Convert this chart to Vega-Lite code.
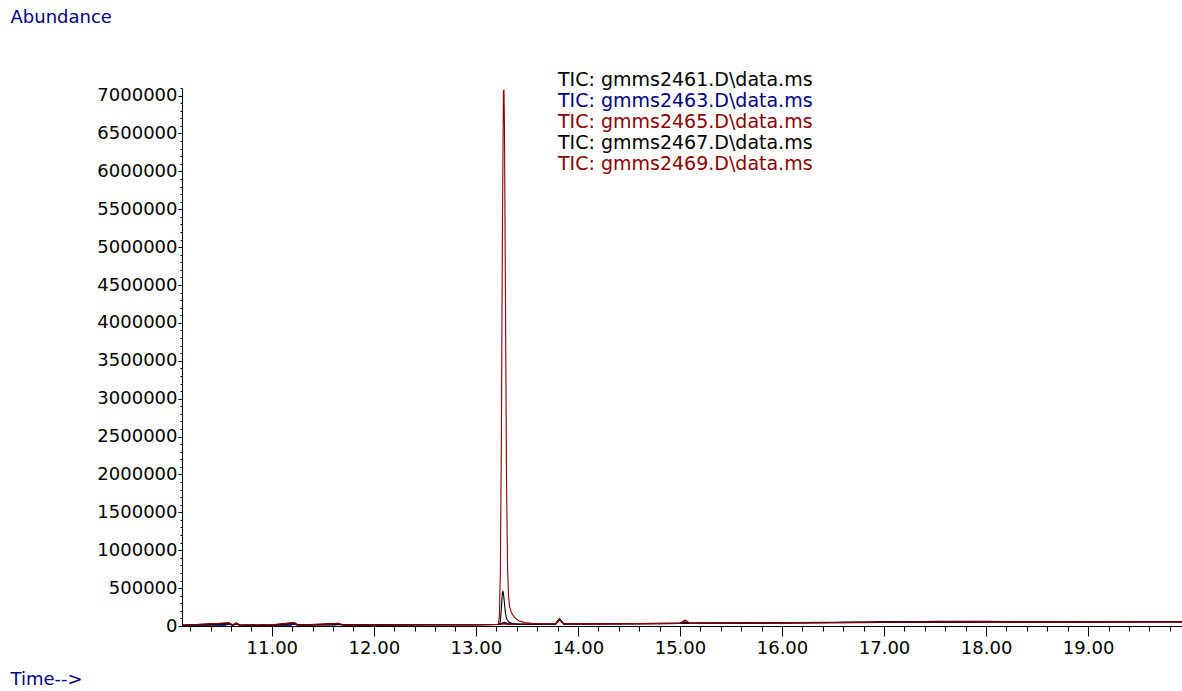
{
  "$schema": "https://vega.github.io/schema/vega-lite/v6.json",
  "width": 1000,
  "height": 538,
  "autosize": {"type": "none"},
  "padding": {"left": 182, "top": 88, "right": 0, "bottom": 65},
  "background": "white",
  "config": {"view": {"stroke": null}, "font": "DejaVu Sans"},
  "data": {"values": [
    {"s":"2461","t":10.12,"a":9000},{"s":"2461","t":10.55,"a":9500},{"s":"2461","t":10.58,"a":38000},{"s":"2461","t":10.61,"a":11000},{"s":"2461","t":10.65,"a":36000},{"s":"2461","t":10.69,"a":10000},{"s":"2461","t":10.8,"a":10000},{"s":"2461","t":10.82,"a":18000},{"s":"2461","t":10.85,"a":10000},{"s":"2461","t":10.93,"a":17000},{"s":"2461","t":10.96,"a":10500},{"s":"2461","t":11.19,"a":11000},{"s":"2461","t":11.22,"a":42000},{"s":"2461","t":11.25,"a":11500},{"s":"2461","t":11.42,"a":18000},{"s":"2461","t":11.62,"a":12500},{"s":"2461","t":11.65,"a":32000},{"s":"2461","t":11.69,"a":12500},{"s":"2461","t":12.0,"a":14000},{"s":"2461","t":12.5,"a":16000},{"s":"2461","t":13.0,"a":18000},{"s":"2461","t":13.22,"a":19000},{"s":"2461","t":13.27,"a":30000},{"s":"2461","t":13.32,"a":22000},{"s":"2461","t":13.6,"a":23000},{"s":"2461","t":13.78,"a":24000},{"s":"2461","t":13.82,"a":90000},{"s":"2461","t":13.86,"a":26000},{"s":"2461","t":14.2,"a":28000},{"s":"2461","t":14.6,"a":31000},{"s":"2461","t":15.0,"a":33000},{"s":"2461","t":15.05,"a":42000},{"s":"2461","t":15.1,"a":34000},{"s":"2461","t":15.5,"a":37000},{"s":"2461","t":16.0,"a":41000},{"s":"2461","t":16.5,"a":45000},{"s":"2461","t":17.0,"a":48000},{"s":"2461","t":17.5,"a":50000},{"s":"2461","t":18.0,"a":52000},{"s":"2461","t":18.5,"a":53000},{"s":"2461","t":19.0,"a":54000},{"s":"2461","t":19.5,"a":55000},{"s":"2461","t":19.92,"a":55000},

    {"s":"2463","t":10.12,"a":9000},{"s":"2463","t":10.58,"a":22000},{"s":"2463","t":10.62,"a":10000},{"s":"2463","t":10.65,"a":22000},{"s":"2463","t":10.69,"a":10000},{"s":"2463","t":11.0,"a":11000},{"s":"2463","t":11.22,"a":24000},{"s":"2463","t":11.26,"a":11500},{"s":"2463","t":11.65,"a":22000},{"s":"2463","t":11.7,"a":12500},{"s":"2463","t":12.0,"a":14000},{"s":"2463","t":12.5,"a":16000},{"s":"2463","t":13.0,"a":18000},{"s":"2463","t":13.22,"a":20000},{"s":"2463","t":13.28,"a":48000},{"s":"2463","t":13.34,"a":24000},{"s":"2463","t":13.6,"a":24000},{"s":"2463","t":13.78,"a":25000},{"s":"2463","t":13.82,"a":85000},{"s":"2463","t":13.86,"a":27000},{"s":"2463","t":14.2,"a":30000},{"s":"2463","t":14.6,"a":33000},{"s":"2463","t":15.0,"a":35000},{"s":"2463","t":15.3,"a":38000},{"s":"2463","t":15.6,"a":40000},{"s":"2463","t":16.0,"a":44000},{"s":"2463","t":16.5,"a":48000},{"s":"2463","t":16.9,"a":54000},{"s":"2463","t":17.0,"a":60000},{"s":"2463","t":17.4,"a":58000},{"s":"2463","t":17.5,"a":62000},{"s":"2463","t":18.0,"a":62000},{"s":"2463","t":18.2,"a":60000},{"s":"2463","t":18.5,"a":60000},{"s":"2463","t":19.0,"a":58000},{"s":"2463","t":19.5,"a":57000},{"s":"2463","t":19.92,"a":56000},

    {"s":"2465","t":10.12,"a":9000},{"s":"2465","t":10.58,"a":40000},{"s":"2465","t":10.62,"a":10000},{"s":"2465","t":10.65,"a":38000},{"s":"2465","t":10.69,"a":10000},{"s":"2465","t":11.0,"a":11000},{"s":"2465","t":11.22,"a":44000},{"s":"2465","t":11.26,"a":11500},{"s":"2465","t":11.65,"a":34000},{"s":"2465","t":11.7,"a":12500},{"s":"2465","t":12.0,"a":14000},{"s":"2465","t":12.5,"a":16000},{"s":"2465","t":13.0,"a":18000},{"s":"2465","t":13.22,"a":19000},{"s":"2465","t":13.28,"a":35000},{"s":"2465","t":13.34,"a":22000},{"s":"2465","t":13.78,"a":24000},{"s":"2465","t":13.82,"a":88000},{"s":"2465","t":13.86,"a":26000},{"s":"2465","t":14.2,"a":28000},{"s":"2465","t":14.6,"a":31000},{"s":"2465","t":15.0,"a":33000},{"s":"2465","t":15.05,"a":70000},{"s":"2465","t":15.1,"a":34000},{"s":"2465","t":15.5,"a":37000},{"s":"2465","t":16.0,"a":41000},{"s":"2465","t":16.5,"a":45000},{"s":"2465","t":17.0,"a":48000},{"s":"2465","t":17.5,"a":51000},{"s":"2465","t":18.0,"a":53000},{"s":"2465","t":18.5,"a":54000},{"s":"2465","t":19.0,"a":55000},{"s":"2465","t":19.5,"a":56000},{"s":"2465","t":19.92,"a":56000},

    {"s":"2467","t":10.12,"a":9000},{"s":"2467","t":10.58,"a":36000},{"s":"2467","t":10.62,"a":10000},{"s":"2467","t":10.65,"a":34000},{"s":"2467","t":10.69,"a":10000},{"s":"2467","t":11.0,"a":11000},{"s":"2467","t":11.22,"a":40000},{"s":"2467","t":11.26,"a":11500},{"s":"2467","t":11.65,"a":30000},{"s":"2467","t":11.7,"a":12500},{"s":"2467","t":12.0,"a":14000},{"s":"2467","t":12.5,"a":16000},{"s":"2467","t":13.0,"a":18000},{"s":"2467","t":13.2,"a":19000},{"s":"2467","t":13.23,"a":22000},{"s":"2467","t":13.24,"a":60000},{"s":"2467","t":13.25,"a":250000},{"s":"2467","t":13.26,"a":440000},{"s":"2467","t":13.265,"a":462000},{"s":"2467","t":13.27,"a":430000},{"s":"2467","t":13.28,"a":300000},{"s":"2467","t":13.29,"a":170000},{"s":"2467","t":13.3,"a":100000},{"s":"2467","t":13.32,"a":55000},{"s":"2467","t":13.35,"a":35000},{"s":"2467","t":13.4,"a":26000},{"s":"2467","t":13.6,"a":24000},{"s":"2467","t":13.78,"a":25000},{"s":"2467","t":13.82,"a":100000},{"s":"2467","t":13.86,"a":27000},{"s":"2467","t":14.2,"a":29000},{"s":"2467","t":14.6,"a":32000},{"s":"2467","t":15.0,"a":34000},{"s":"2467","t":15.05,"a":45000},{"s":"2467","t":15.1,"a":35000},{"s":"2467","t":15.5,"a":38000},{"s":"2467","t":16.0,"a":42000},{"s":"2467","t":16.5,"a":46000},{"s":"2467","t":17.0,"a":49000},{"s":"2467","t":17.5,"a":51000},{"s":"2467","t":18.0,"a":53000},{"s":"2467","t":18.5,"a":54000},{"s":"2467","t":19.0,"a":55000},{"s":"2467","t":19.5,"a":56000},{"s":"2467","t":19.92,"a":56000},

    {"s":"2469","t":10.12,"a":9000},{"s":"2469","t":10.58,"a":42000},{"s":"2469","t":10.62,"a":10000},{"s":"2469","t":10.65,"a":40000},{"s":"2469","t":10.69,"a":10000},{"s":"2469","t":10.82,"a":20000},{"s":"2469","t":10.86,"a":10500},{"s":"2469","t":10.93,"a":18000},{"s":"2469","t":10.97,"a":11000},{"s":"2469","t":11.22,"a":46000},{"s":"2469","t":11.26,"a":11500},{"s":"2469","t":11.42,"a":20000},{"s":"2469","t":11.46,"a":12000},{"s":"2469","t":11.65,"a":36000},{"s":"2469","t":11.7,"a":12500},{"s":"2469","t":12.0,"a":14000},{"s":"2469","t":12.5,"a":16000},{"s":"2469","t":13.0,"a":18000},{"s":"2469","t":13.2,"a":20000},{"s":"2469","t":13.22,"a":25000},{"s":"2469","t":13.23,"a":120000},{"s":"2469","t":13.24,"a":700000},{"s":"2469","t":13.25,"a":2500000},{"s":"2469","t":13.26,"a":5200000},{"s":"2469","t":13.27,"a":7050000},{"s":"2469","t":13.275,"a":7080000},{"s":"2469","t":13.28,"a":6600000},{"s":"2469","t":13.29,"a":4300000},{"s":"2469","t":13.3,"a":2000000},{"s":"2469","t":13.31,"a":800000},{"s":"2469","t":13.32,"a":400000},{"s":"2469","t":13.33,"a":260000},{"s":"2469","t":13.35,"a":170000},{"s":"2469","t":13.38,"a":110000},{"s":"2469","t":13.42,"a":70000},{"s":"2469","t":13.48,"a":45000},{"s":"2469","t":13.55,"a":35000},{"s":"2469","t":13.65,"a":30000},{"s":"2469","t":13.78,"a":28000},{"s":"2469","t":13.82,"a":90000},{"s":"2469","t":13.86,"a":29000},{"s":"2469","t":14.2,"a":30000},{"s":"2469","t":14.6,"a":32000},{"s":"2469","t":15.0,"a":34000},{"s":"2469","t":15.05,"a":80000},{"s":"2469","t":15.1,"a":35000},{"s":"2469","t":15.5,"a":38000},{"s":"2469","t":16.0,"a":42000},{"s":"2469","t":16.5,"a":46000},{"s":"2469","t":17.0,"a":49000},{"s":"2469","t":17.5,"a":52000},{"s":"2469","t":18.0,"a":54000},{"s":"2469","t":18.5,"a":55000},{"s":"2469","t":19.0,"a":56000},{"s":"2469","t":19.5,"a":57000},{"s":"2469","t":19.92,"a":57000}
  ]},
  "mark": {"type": "line", "strokeWidth": 1.1, "clip": true},
  "encoding": {
    "x": {
      "field": "t", "type": "quantitative",
      "scale": {"domain": [10.12, 19.92], "nice": false, "zero": false},
      "axis": {
        "values": [10.2,10.4,10.6,10.8,11,11.2,11.4,11.6,11.8,12,12.2,12.4,12.6,12.8,13,13.2,13.4,13.6,13.8,14,14.2,14.4,14.6,14.8,15,15.2,15.4,15.6,15.8,16,16.2,16.4,16.6,16.8,17,17.2,17.4,17.6,17.8,18,18.2,18.4,18.6,18.8,19,19.2,19.4,19.6,19.8],
        "labelExpr": "abs(datum.value - round(datum.value)) < 0.01 ? format(datum.value, '.2f') : ''",
        "tickSize": {"condition": {"test": "abs(datum.value - round(datum.value)) < 0.01", "value": 10}, "value": 5},
        "grid": false,
        "domainColor": "#000000",
        "tickColor": "#000000",
        "labelFont": "DejaVu Sans",
        "labelFontSize": 18,
        "labelColor": "#000000",
        "labelPadding": 3,
        "labelOverlap": false,
        "labelFlush": false,
        "title": "Time-->",
        "titleAngle": 0,
        "titleX": -172,
        "titleY": 53,
        "titleAlign": "left",
        "titleBaseline": "middle",
        "titleFont": "DejaVu Sans",
        "titleFontSize": 18,
        "titleFontWeight": "normal",
        "titleColor": "#000080"
      }
    },
    "y": {
      "field": "a", "type": "quantitative",
      "scale": {"domain": [0, 7100000], "nice": false},
      "axis": {
        "values": [0,100000,200000,300000,400000,500000,600000,700000,800000,900000,1000000,1100000,1200000,1300000,1400000,1500000,1600000,1700000,1800000,1900000,2000000,2100000,2200000,2300000,2400000,2500000,2600000,2700000,2800000,2900000,3000000,3100000,3200000,3300000,3400000,3500000,3600000,3700000,3800000,3900000,4000000,4100000,4200000,4300000,4400000,4500000,4600000,4700000,4800000,4900000,5000000,5100000,5200000,5300000,5400000,5500000,5600000,5700000,5800000,5900000,6000000,6100000,6200000,6300000,6400000,6500000,6600000,6700000,6800000,6900000,7000000,7100000],
        "labelExpr": "datum.value % 500000 == 0 ? format(datum.value, 'd') : ''",
        "tickSize": {"condition": {"test": "datum.value % 500000 == 0", "value": 4}, "value": 2},
        "grid": false,
        "domainColor": "#000000",
        "tickColor": "#000000",
        "labelFont": "DejaVu Sans",
        "labelFontSize": 18,
        "labelColor": "#000000",
        "labelPadding": 1,
        "labelOverlap": false,
        "labelFlush": false,
        "title": "Abundance",
        "titleAngle": 0,
        "titleX": -172,
        "titleY": -71,
        "titleAlign": "left",
        "titleBaseline": "middle",
        "titleFont": "DejaVu Sans",
        "titleFontSize": 18,
        "titleFontWeight": "normal",
        "titleColor": "#000080"
      }
    },
    "color": {
      "field": "s", "type": "nominal",
      "scale": {"domain": ["2461","2463","2465","2467","2469"], "range": ["#000000","#000080","#8b0000","#000000","#8b0000"]},
      "legend": {
        "orient": "none",
        "legendX": 357,
        "legendY": -18,
        "title": null,
        "symbolSize": 0,
        "symbolOpacity": 0,
        "symbolStrokeWidth": 0,
        "labelOffset": 0,
        "labelFont": "DejaVu Sans",
        "labelFontSize": 19,
        "labelColor": {"expr": "scale('color', datum.value)"},
        "labelExpr": "'TIC: gmms' + datum.label + '.D\\\\data.ms'",
        "labelLimit": 500,
        "rowPadding": 1,
        "padding": 0
      }
    }
  }
}
